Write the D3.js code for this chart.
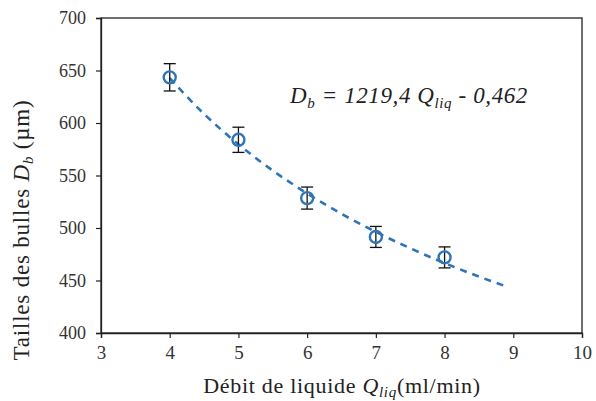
<!DOCTYPE html>
<html><head><meta charset="utf-8">
<script src="https://cdn.jsdelivr.net/npm/d3@7"></script>
<style>body{margin:0;background:#fff;}svg{display:block;}</style>
</head><body>
<svg id="c" width="596" height="401"></svg>
<script>
const flowRates = [4, 5, 6, 7, 8];
const bubbleSizes = [643.5, 584, 528.5, 491.5, 472];
const errors = [13, 12, 10.5, 10, 10];
const trendX = [4, 4.5, 5, 5.5, 6, 6.5, 7, 7.5, 8, 8.5, 8.9];
const trendY = [642.7, 608.6, 579.7, 554.7, 532.9, 513.5, 496.3, 480.7, 466.6, 453.7, 444.3];
const xTicks = [3, 4, 5, 6, 7, 8, 9, 10];
const yTicks = [400, 450, 500, 550, 600, 650, 700];

const W = 596, H = 401;
const m = {l: 101, t: 18, r: 14, b: 68};
const svg = d3.select("#c");
const x = d3.scaleLinear().domain([3, 10]).range([m.l, W - m.r]);
const y = d3.scaleLinear().domain([400, 700]).range([H - m.b, m.t]);
const font = '"Liberation Serif"';
const blue = "#2E75B6";

// frame
svg.append("rect").attr("x", m.l).attr("y", m.t)
  .attr("width", W - m.r - m.l).attr("height", H - m.b - m.t)
  .attr("fill", "none").attr("stroke", "#222").attr("stroke-width", 1.3);

const xAxis = svg.append("g").attr("transform", `translate(0,${H - m.b})`)
  .call(d3.axisBottom(x).tickValues(xTicks).tickSize(5).tickPadding(8).tickFormat(d3.format("d")));
const yAxis = svg.append("g").attr("transform", `translate(${m.l},0)`)
  .call(d3.axisLeft(y).tickValues(yTicks).tickSize(5).tickPadding(10).tickFormat(d3.format("d")));
[xAxis, yAxis].forEach(g => {
  g.attr("font-family", null).attr("font-size", null);
  g.select(".domain").attr("stroke", "#222").attr("stroke-width", 1.3);
  g.selectAll(".tick line").attr("stroke", "#222").attr("stroke-width", 1.2);
  g.selectAll(".tick text").style("font-family", font).attr("fill", "#333");
});
yAxis.selectAll(".tick text").style("font-size", "18px");
xAxis.selectAll(".tick text").style("font-size", "19px");

// trend line
svg.append("path").datum(trendX.map((d, i) => [d, trendY[i]]))
  .attr("d", d3.line().x(d => x(d[0])).y(d => y(d[1])).curve(d3.curveMonotoneX))
  .attr("fill", "none").attr("stroke", blue).attr("stroke-width", 2.6)
  .attr("stroke-dasharray", "7,6");

// error bars
const eb = svg.append("g").attr("stroke", "#111").attr("stroke-width", 1.3);
flowRates.forEach((q, i) => {
  const cx = x(q), t = y(bubbleSizes[i] + errors[i]), b = y(bubbleSizes[i] - errors[i]);
  eb.append("line").attr("x1", cx).attr("x2", cx).attr("y1", t).attr("y2", b);
  eb.append("line").attr("x1", cx - 6).attr("x2", cx + 6).attr("y1", t).attr("y2", t);
  eb.append("line").attr("x1", cx - 6).attr("x2", cx + 6).attr("y1", b).attr("y2", b);
});

// markers
svg.append("g").selectAll("circle").data(flowRates).join("circle")
  .attr("cx", d => x(d)).attr("cy", (d, i) => y(bubbleSizes[i])).attr("r", 6)
  .attr("fill", "none").attr("stroke", blue).attr("stroke-width", 2.4);

// equation
const eq = svg.append("text").attr("x", 290).attr("y", 103)
  .style("font-family", font).style("font-size", "23px").style("font-style", "italic")
  .style("letter-spacing", "0.6px").attr("fill", "#222");
eq.append("tspan").text("D");
eq.append("tspan").style("font-size", "15px").attr("dy", 5).text("b");
eq.append("tspan").attr("dy", -5).text(" = 1219,4 ");
eq.append("tspan").text("Q");
eq.append("tspan").style("font-size", "15px").attr("dy", 5).text("liq");
eq.append("tspan").attr("dy", -5).text(" - 0,462");

// x title
const xt = svg.append("text").attr("x", 342).attr("y", 393).attr("text-anchor", "middle")
  .style("font-family", font).style("font-size", "22px").style("letter-spacing", "0.7px").attr("fill", "#222");
xt.append("tspan").text("Débit de liquide  ");
xt.append("tspan").style("font-style", "italic").text("Q");
xt.append("tspan").style("font-style", "italic").style("font-size", "15px").attr("dy", 4).text("liq");
xt.append("tspan").attr("dy", -4).text("(ml/min)");

// y title
const yt = svg.append("text").attr("transform", "translate(29,230) rotate(-90)")
  .attr("text-anchor", "middle").style("font-family", font).style("font-size", "23px")
  .style("letter-spacing", "0.8px").attr("fill", "#222");
yt.append("tspan").text("Tailles  des bulles  ");
yt.append("tspan").style("font-style", "italic").text("D");
yt.append("tspan").style("font-style", "italic").style("font-size", "15px").attr("dy", 4).text("b");
yt.append("tspan").attr("dy", -4).text(" (µm)");
</script>
</body></html>
